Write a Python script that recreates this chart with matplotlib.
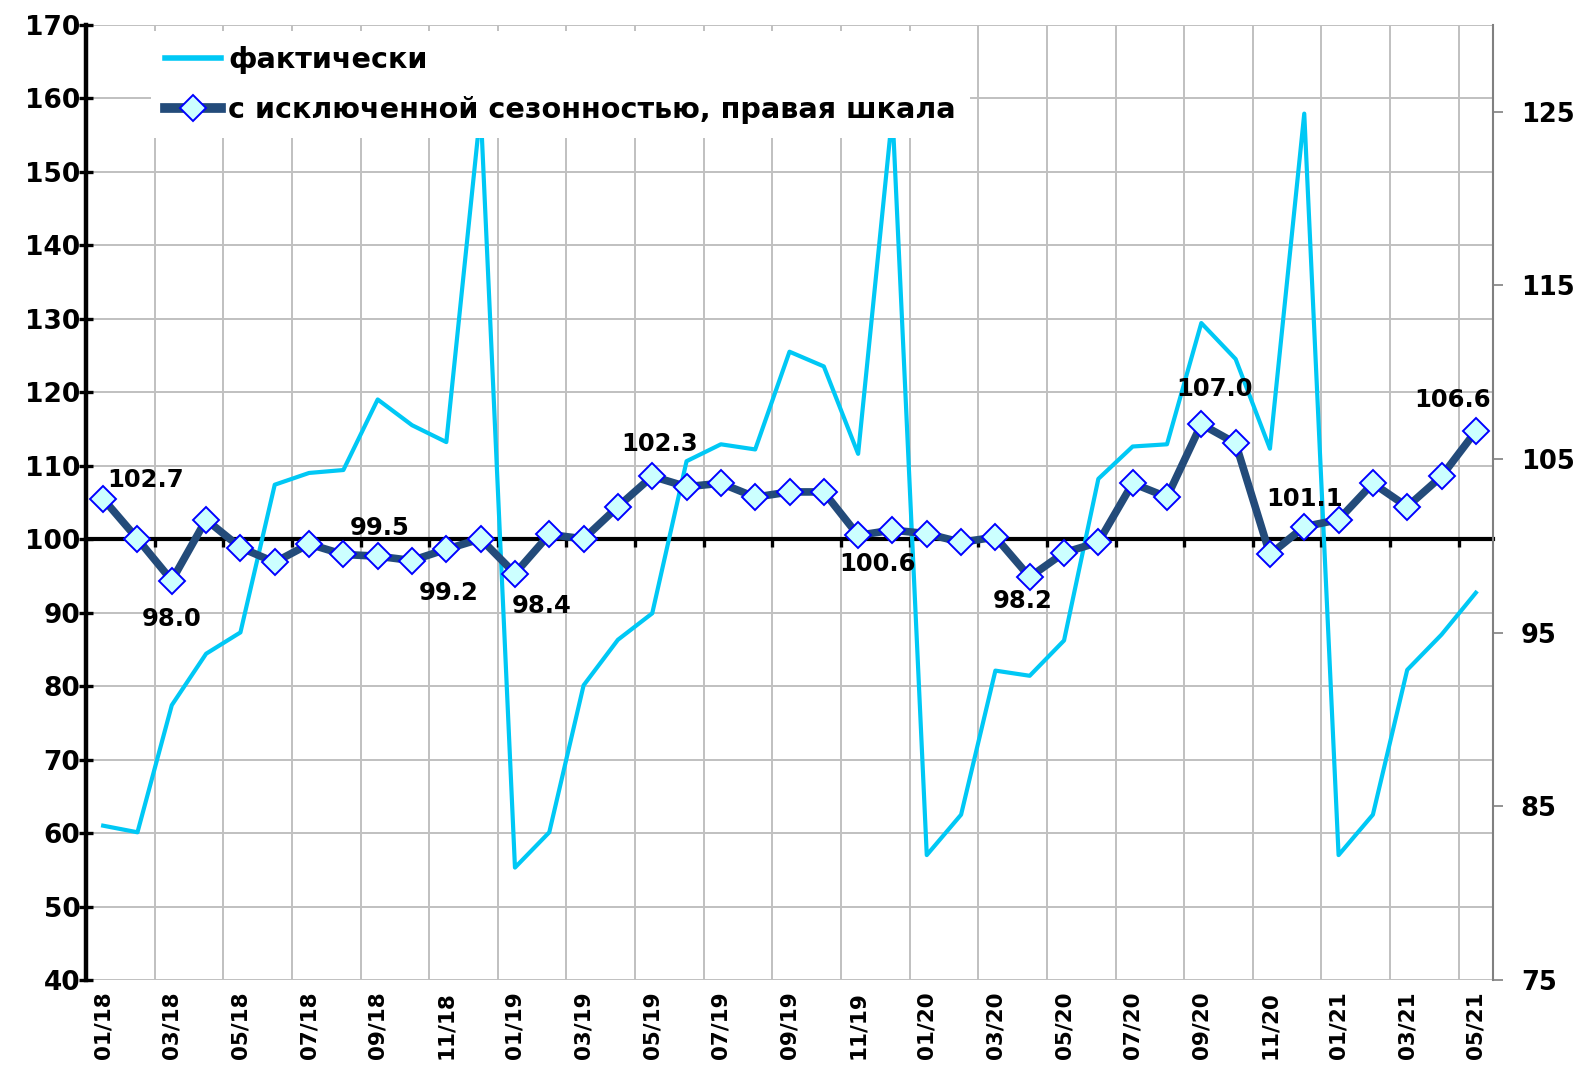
import numpy as np
import matplotlib.pyplot as plt
from matplotlib.lines import Line2D

plt.rcParams['font.family'] = ['DejaVu Sans']
plt.rcParams['font.weight'] = 'bold'

months = ['01/18', '02/18', '03/18', '04/18', '05/18', '06/18', '07/18', '08/18', '09/18', '10/18', '11/18', '12/18',
          '01/19', '02/19', '03/19', '04/19', '05/19', '06/19', '07/19', '08/19', '09/19', '10/19', '11/19', '12/19',
          '01/20', '02/20', '03/20', '04/20', '05/20', '06/20', '07/20', '08/20', '09/20', '10/20', '11/20', '12/20',
          '01/21', '02/21', '03/21', '04/21', '05/21']

# actual values (left scale)
actual = [61.0, 60.1, 77.4, 84.4, 87.3, 107.4, 109.0, 109.4, 119.0, 115.5, 113.2, 158.5,
          55.3, 60.1, 80.1, 86.3, 89.9, 110.6, 112.9, 112.2, 125.5, 123.5, 111.6, 158.0,
          57.0, 62.5, 82.1, 81.4, 86.2, 108.2, 112.6, 112.9, 129.4, 124.5, 112.3, 157.9,
          57.0, 62.5, 82.2, 87.0, 92.7]

# seasonally adjusted (right scale)
adjusted = [102.7, 100.4, 98.0, 101.5, 99.9, 99.05, 100.1, 99.5, 99.4, 99.15, 99.8, 100.4,
            98.4, 100.65, 100.4, 102.25, 104.0, 103.4, 103.6, 102.8, 103.1, 103.1, 100.6, 100.9,
            100.7, 100.2, 100.5, 98.2, 99.6, 100.2, 103.6, 102.8, 107.0, 105.9, 99.5, 101.1,
            101.5, 103.6, 102.25, 104.0, 106.6]

# data labels: (month index, text, offset in pixels)
label_idx = [0, 2, 8, 10, 12, 16, 22, 27, 32, 35, 40]
label_txt = ['102.7', '98.0', '99.5', '99.2', '98.4', '102.3', '100.6', '98.2', '107.0', '101.1', '106.6']
label_off = [(42, 19), (0, -38), (2, 28), (2, -44), (27, -32), (7, 32), (19, -29), (-7, -24), (13, 35), (0, 28), (-23, 31)]

cyan = '#00C8F5'
dark = '#234B7A'
x = np.arange(len(months))

fig = plt.figure(figsize=(15.77, 10.70), dpi=100)
ax1 = fig.add_axes([86 / 1577, 1 - 980 / 1070, 1407 / 1577, 955.3 / 1070])
ax2 = ax1.twinx()

ax1.plot(x, actual, color=cyan, lw=3.0, zorder=3)
ax2.plot(x, adjusted, color=dark, lw=5.5, marker='D', ms=13, mfc='#CCFFFF', mec='#0000FF', mew=1.4, zorder=3)

ax1.set_xlim(-0.5, len(months) - 0.5)
ax1.set_ylim(40, 170)
ax2.set_ylim(75, 130)

ax1.set_yticks(np.arange(40, 171, 10))
ax2.set_yticks(np.arange(75, 126, 10))
ax1.set_xticks(np.arange(1.5, len(months) - 1, 2))
ax1.set_xticklabels([])
ax1.grid(True, color='#C0C0C0', lw=1.4)
ax1.set_axisbelow(True)

# category axis crosses at 100
ax1.spines['bottom'].set_position(('data', 100))
ax1.spines['bottom'].set_linewidth(3)
ax1.spines['bottom'].set_zorder(2.5)
ax1.spines['left'].set_linewidth(3.2)
ax1.spines['top'].set_visible(False)
ax1.spines['right'].set_visible(False)
ax1.tick_params(axis='x', direction='out', length=6, width=2.4, color='black')
ax1.tick_params(axis='y', direction='inout', length=10, width=2.4, labelsize=19, pad=-1)

for s in ['left', 'top', 'bottom']:
    ax2.spines[s].set_visible(False)
ax2.spines['right'].set_color('#808080')
ax2.spines['right'].set_linewidth(1.5)
ax2.tick_params(axis='y', direction='out', length=7, width=1.2, color='#808080', labelsize=18.5, pad=13)

sec = ax1.secondary_xaxis(0)
sec.set_xticks(x[::2])
sec.set_xticklabels(months[::2], rotation=90, fontsize=15.5, fontweight='bold')
sec.tick_params(length=0, pad=8)
sec.spines['bottom'].set_visible(False)

for i, t, (dx, dy) in zip(label_idx, label_txt, label_off):
    ax2.annotate(t, xy=(i, adjusted[i]), xytext=(dx, dy), textcoords='offset pixels',
                 ha='center', va='center', fontsize=17.5, fontweight='bold', zorder=4)

handles = [Line2D([], [], color=cyan, lw=4),
           Line2D([], [], color=dark, lw=7, marker='D', ms=13, mfc='#CCFFFF', mec='#0000FF', mew=1.4)]
leg = ax2.legend(handles, ['фактически', 'с исключенной сезонностью, правая шкала'],
                 loc='upper left', bbox_to_anchor=(0.046, 0.993), fontsize=20.6,
                 handlelength=1.95, handletextpad=0.25, labelspacing=0.78,
                 frameon=True, fancybox=False, borderpad=0.5, borderaxespad=0)
leg.get_frame().set_facecolor('white')
leg.get_frame().set_edgecolor('none')
leg.get_frame().set_alpha(1)

fig.savefig('out.png', dpi=100)
